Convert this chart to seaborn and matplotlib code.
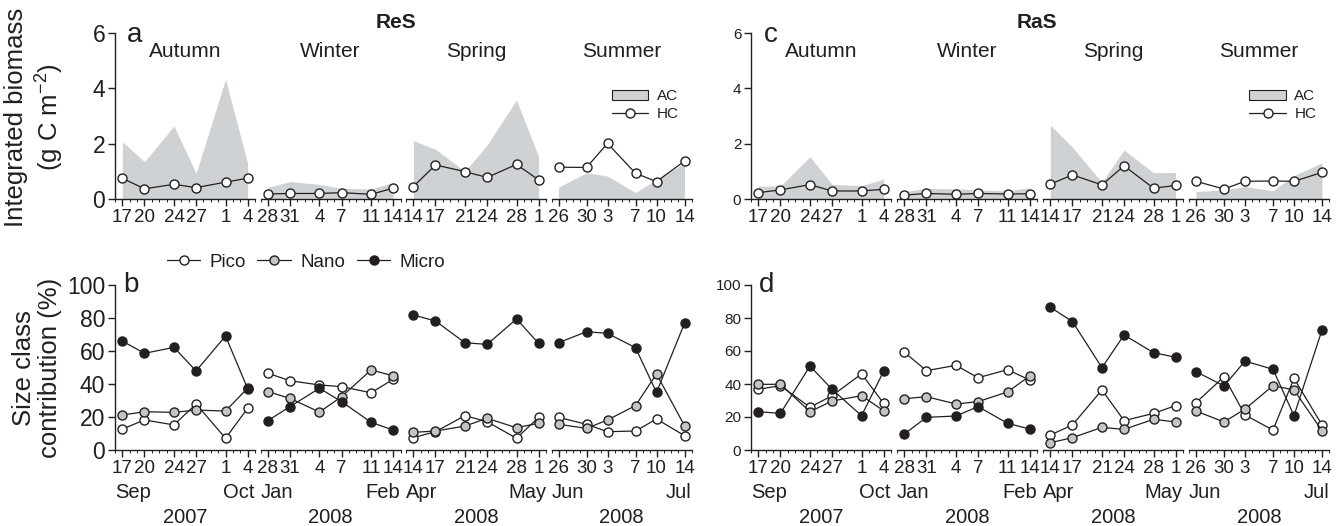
import numpy as np
import pandas as pd
import matplotlib
matplotlib.use("Agg")
import matplotlib.pyplot as plt
import matplotlib.dates as mdates
from matplotlib.lines import Line2D
from matplotlib.patches import Patch
import seaborn as sns

sns.set_theme(style="ticks")
plt.rcParams["font.family"] = ["Liberation Sans", "DejaVu Sans"]
plt.rcParams.update({
    "mathtext.fontset": "custom",
    "mathtext.rm": "Liberation Sans",
    "mathtext.it": "Liberation Sans:italic",
    "text.color": "#231f20",
    "axes.edgecolor": "#231f20",
    "xtick.color": "#231f20",
    "ytick.color": "#231f20",
    "axes.linewidth": 1.0,
})

# ---- data ----
seasons = ["Autumn", "Winter", "Spring", "Summer"]
autumn_dates = ["2007-09-17", "2007-09-20", "2007-09-24", "2007-09-27", "2007-10-01", "2007-10-04"]
winter_dates = ["2008-01-28", "2008-01-31", "2008-02-04", "2008-02-07", "2008-02-11", "2008-02-14"]
spring_dates = ["2008-04-14", "2008-04-17", "2008-04-21", "2008-04-24", "2008-04-28", "2008-05-01"]
summer_dates = ["2008-06-26", "2008-06-30", "2008-07-03", "2008-07-07", "2008-07-10", "2008-07-14"]
season_dates = [autumn_dates, winter_dates, spring_dates, summer_dates]
month_labels = [("Sep", "Oct"), ("Jan", "Feb"), ("Apr", "May"), ("Jun", "Jul")]
year_labels = ["2007", "2008", "2008", "2008"]

# integrated biomass (g C m-2), one list per season
res_ac = [[2.07, 1.35, 2.64, 0.93, 4.33, 1.29], [0.42, 0.63, 0.53, 0.39, 0.36, 0.59],
          [2.11, 1.80, 1.00, 1.95, 3.58, 1.53], [0.43, 0.95, 0.83, 0.23, 0.70, 1.30]]
res_hc = [[0.75, 0.37, 0.53, 0.41, 0.61, 0.75], [0.18, 0.20, 0.20, 0.23, 0.17, 0.39],
          [0.45, 1.23, 0.99, 0.78, 1.25, 0.69], [1.15, 1.14, 2.01, 0.93, 0.63, 1.37]]
ras_ac = [[0.47, 0.47, 1.53, 0.53, 0.48, 0.72], [0.27, 0.38, 0.37, 0.33, 0.29, 0.41],
          [2.67, 1.87, 0.60, 1.77, 0.95, 0.96], [0.27, 0.33, 0.45, 0.30, 0.85, 1.31]]
ras_hc = [[0.23, 0.33, 0.52, 0.29, 0.29, 0.35], [0.14, 0.20, 0.17, 0.20, 0.18, 0.19],
          [0.54, 0.87, 0.51, 1.20, 0.39, 0.49], [0.64, 0.36, 0.64, 0.65, 0.64, 0.96]]

# size class contribution (%)
res_pico = [[12.7, 18.2, 15.2, 27.9, 7.1, 25.3], [46.5, 42.0, 39.4, 38.4, 34.7, 42.8],
            [7.5, 11.1, 20.8, 17.2, 7.1, 19.8], [19.8, 15.6, 11.1, 11.5, 18.8, 8.7]]
res_nano = [[21.2, 23.2, 22.8, 24.2, 23.6, 37.5], [35.4, 31.3, 23.0, 32.3, 48.5, 45.0],
            [10.7, 11.5, 14.5, 19.2, 13.5, 16.2], [15.6, 13.1, 18.2, 26.9, 46.1, 14.7]]
res_micro = [[66.0, 58.6, 62.2, 47.9, 69.1, 37.2], [17.8, 26.3, 37.4, 29.3, 16.8, 12.1],
             [81.8, 78.2, 65.0, 64.0, 79.4, 64.6], [65.0, 71.7, 70.7, 62.0, 34.9, 76.8]]
ras_pico = [[36.8, 39.0, 25.9, 32.9, 46.1, 28.3], [59.2, 48.1, 51.3, 43.8, 48.7, 42.4],
            [9.1, 15.2, 36.4, 17.8, 22.2, 26.9], [28.7, 44.4, 21.2, 12.1, 43.4, 15.2]]
ras_nano = [[39.8, 39.8, 23.2, 29.7, 32.9, 23.8], [31.1, 32.3, 27.9, 29.3, 35.2, 44.8],
            [4.4, 7.5, 13.7, 12.5, 18.6, 17.0], [23.6, 17.0, 24.8, 39.0, 36.4, 11.7]]
ras_micro = [[23.2, 22.2, 50.9, 36.8, 20.8, 47.7], [9.7, 19.8, 20.6, 26.3, 16.2, 12.7],
             [86.5, 77.8, 49.9, 69.7, 59.0, 56.2], [47.5, 38.8, 53.9, 48.9, 20.8, 72.7]]

INK = "#231f20"
AC_GREY = "#cfd2d4"
NANO_GREY = "#c4c4c4"
W, H = 1338, 526

fig = plt.figure(figsize=(W / 100, H / 100), dpi=100)


def add_px_axes(left, top, bottom, width):
    return fig.add_axes([left / W, 1 - bottom / H, width / W, (bottom - top) / H])


def style_segment(ax, d, i, ylim, yticks, ysize):
    ax.set_xlim(d[0] - pd.Timedelta(days=1), d[-1] + pd.Timedelta(days=1))
    ax.set_ylim(*ylim)
    ax.set_xticks(d)
    ax.set_xticklabels([str(x.day) for x in d])
    ax.xaxis.set_minor_locator(mdates.DayLocator())
    ax.tick_params(axis="x", which="major", length=5, width=1, labelsize=13.5, pad=2)
    ax.tick_params(axis="x", which="minor", length=2.5, width=0.7)
    ax.set_xlabel("")
    ax.set_ylabel("")
    sns.despine(ax=ax, left=(i > 0))
    if i == 0:
        ax.set_yticks(yticks)
        ax.tick_params(axis="y", labelsize=ysize, length=5, width=1, pad=2)
    else:
        ax.tick_params(axis="y", left=False, labelleft=False)


def draw_biomass(lefts, ac, hc, letter, ysize):
    axes = []
    for i, left in enumerate(lefts):
        ax = add_px_axes(left, 33, 199, 140)
        d = pd.to_datetime(season_dates[i])
        ax.fill_between(d, 0, ac[i], color=AC_GREY, lw=0)
        sns.lineplot(x=d, y=hc[i], ax=ax, color=INK, lw=0.9, marker="o", ms=6.5,
                     mfc="white", mec=INK, mew=1)
        style_segment(ax, d, i, (0, 6), [0, 2, 4, 6], ysize)
        ax.text(0.5, 0.886, seasons[i], transform=ax.transAxes, ha="center",
                va="center", fontsize=15)
        axes.append(ax)
    axes[0].text(0.14, 0.99, letter, transform=axes[0].transAxes, ha="center",
                 va="center", fontsize=20)
    handles = [Patch(facecolor=AC_GREY, edgecolor=INK, lw=0.8),
               Line2D([], [], color=INK, lw=0.9, marker="o", ms=6.5, mfc="white", mec=INK)]
    axes[3].legend(handles, ["AC", "HC"], loc="upper left", bbox_to_anchor=(0.43, 0.66),
                   frameon=False, fontsize=11, handlelength=2.4, handletextpad=0.55,
                   labelspacing=0.25, borderpad=0, borderaxespad=0)
    return axes


def draw_size(lefts, pico, nano, micro, letter, ysize):
    for i, left in enumerate(lefts):
        ax = add_px_axes(left, 285, 450, 140)
        d = pd.to_datetime(season_dates[i])
        for vals, fc in [(pico, "white"), (nano, NANO_GREY), (micro, INK)]:
            sns.lineplot(x=d, y=vals[i], ax=ax, color=INK, lw=0.9, marker="o", ms=6.5,
                         mfc=fc, mec=INK, mew=1)
        style_segment(ax, d, i, (0, 100), [0, 20, 40, 60, 80, 100], ysize)
        ax.text(0, -0.255, month_labels[i][0], transform=ax.transAxes, ha="left",
                va="center", fontsize=14.5)
        ax.text(1, -0.255, month_labels[i][1], transform=ax.transAxes, ha="right",
                va="center", fontsize=14.5)
        ax.text(0.5, -0.41, year_labels[i], transform=ax.transAxes, ha="center",
                va="center", fontsize=14.5)
        if i == 0:
            ax.text(0.11, 1.0, letter, transform=ax.transAxes, ha="center",
                    va="center", fontsize=20)


left_half = [115, 260.5, 406, 551.5]
right_half = [751, 897, 1043, 1189]

draw_biomass(left_half, res_ac, res_hc, "a", 16.5)
draw_biomass(right_half, ras_ac, ras_hc, "c", 11)
draw_size(left_half, res_pico, res_nano, res_micro, "b", 16.5)
draw_size(right_half, ras_pico, ras_nano, ras_micro, "d", 11)

fig.text(396 / W, 1 - 23 / H, "ReS", ha="center", va="center", fontsize=15, fontweight="bold")
fig.text(1037 / W, 1 - 23 / H, "RaS", ha="center", va="center", fontsize=15, fontweight="bold")

fig.text(35 / W, 1 - 117 / H, "Integrated biomass\n(g C m$^{-2}$)", rotation=90,
         ha="center", va="center", fontsize=18.5, linespacing=1.25)
fig.text(37 / W, 1 - 368 / H, "Size class\ncontribution (%)", rotation=90,
         ha="center", va="center", fontsize=18.5, linespacing=1.15)

size_handles = [Line2D([], [], color=INK, lw=0.9, marker="o", ms=6.5, mfc=fc, mec=INK)
                for fc in ["white", NANO_GREY, INK]]
fig.legend(size_handles, ["Pico", "Nano", "Micro"], loc="center",
           bbox_to_anchor=(306 / W, 1 - 262 / H), ncol=3, frameon=False, fontsize=13.5,
           handlelength=1.8, handletextpad=0.5, columnspacing=0.6)

fig.savefig("out.png", dpi=100)
